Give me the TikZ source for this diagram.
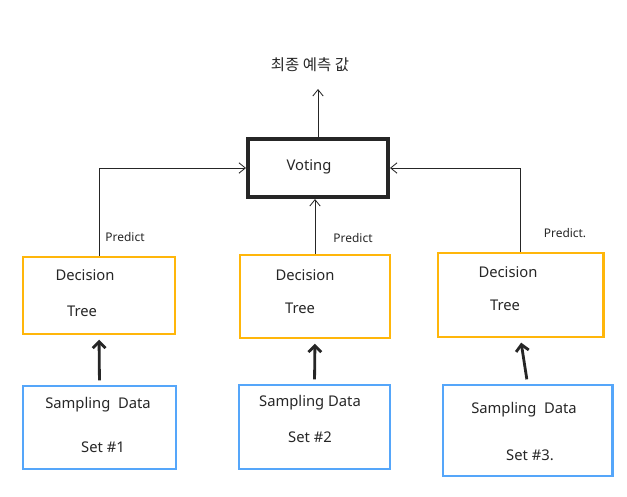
\documentclass[tikz,border=0pt]{standalone}
\usepackage{xcolor}
\usepackage{fontspec}
\setmainfont{Noto Sans}
\newfontfamily\kofont{Noto Sans CJK KR}
\usepackage{tikz}
\usetikzlibrary{arrows.meta,positioning}

\definecolor{treeorange}{HTML}{FFB60A}
\definecolor{datablue}{HTML}{55A6FA}

\tikzset{
	treebox/.style={draw=treeorange, line width=2.1pt, inner sep=0pt},
	databox/.style={draw=datablue, line width=2.1pt, inner sep=0pt},
	votebox/.style={draw=black!85, line width=2.8pt, inner sep=0pt},
	thin arrow/.style={draw=black!85, line width=0.6pt, -{Straight Barb[length=1.6mm,width=2.6mm]}},
	thick arrow/.style={draw=black!85, line width=2pt, -{Straight Barb[length=1.6mm,width=3.2mm]}},
	boxtext/.style={font=\fontsize{10.5}{12}\selectfont, text=black!85},
	predtext/.style={font=\fontsize{8.5}{10}\selectfont, text=black!85}
}

\begin{document}
\begin{tikzpicture}[x=0.025cm, y=-0.025cm]
	\useasboundingbox (0,0) rectangle (627,496);

	% voting and result
	\node[votebox, minimum width=3.5cm, minimum height=1.45cm] (voting) at (318,168) {};
	\node[boxtext] (votetext) at (309,167) {Voting};
	\node[font=\kofont\fontsize{11}{13}\selectfont, text=black!85] (result) at (310,65) {최종 예측 값};

	% trees and sampling sets
	\foreach \n/\x/\y/\w/\h in {1/99/295.5/3.8/1.925, 2/315/296.5/3.75/2.075, 3/520.5/295/4.125/2.1}
	{
		\node[treebox, minimum width=\w cm, minimum height=\h cm] (tree\n) at (\x,\y) {};
	}
	\foreach \n/\x/\y/\w/\h in {1/99.5/427.5/3.825/2.075, 2/314.5/427/3.775/2.1, 3/527.5/430.5/4.225/2.275}
	{
		\node[databox, minimum width=\w cm, minimum height=\h cm] (data\n) at (\x,\y) {};
	}

	\node[boxtext] (dec1) at (85,275) {Decision};
	\node[boxtext] (tr1) at (82,311) {Tree};
	\node[boxtext] (dec2) at (305,275) {Decision};
	\node[boxtext] (tr2) at (300,308) {Tree};
	\node[boxtext] (dec3) at (508,272) {Decision};
	\node[boxtext] (tr3) at (505,305) {Tree};

	\node[boxtext] (samp1) at (98,405) {Sampling\ \ Data};
	\node[boxtext] (set1) at (103,447) {Set \#1};
	\node[boxtext] (samp2) at (310,403) {Sampling Data};
	\node[boxtext] (set2) at (310,437) {Set \#2};
	\node[boxtext] (samp3) at (524,410) {Sampling\ \ Data};
	\node[boxtext] (set3) at (530,455) {Set \#3.};

	% connectors
	\foreach \n in {1,2,3}
	{
		\draw[thick arrow, shorten <=3pt, shorten >=3pt] (data\n.north) -- (tree\n.south);
	}
	\draw[thin arrow] (tree1.north) |- (voting.west);
	\draw[thin arrow] (tree2.north) -- (tree2.north |- voting.south);
	\draw[thin arrow] (tree3.north) |- (voting.east);
	\draw[thin arrow, shorten >=0.3cm] (voting.north) -- (voting.north |- result.south);

	\node[predtext] (pred1) at (125,237) {Predict};
	\node[predtext] (pred2) at (353,238) {Predict};
	\node[predtext] (pred3) at (565,233) {Predict.};
\end{tikzpicture}
\end{document}
